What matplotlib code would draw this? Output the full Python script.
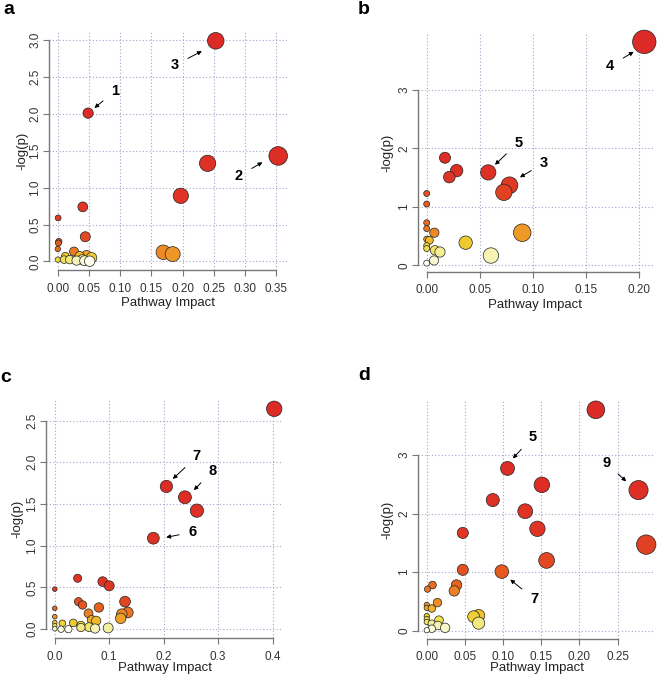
import numpy as np
import matplotlib.pyplot as plt
from matplotlib.colors import LinearSegmentedColormap

plt.rcParams['font.family'] = ['Liberation Sans', 'DejaVu Sans']

# panel a: pathway impact vs -log(p)
a_impact = [0.253, 0.0485, 0.353, 0.240, 0.197, 0.040, 0.0005, 0.044, 0.0016, 0.001,
            0.0, 0.169, 0.184, 0.026, 0.046, 0.035, 0.012, 0.054, 0.0, 0.010,
            0.019, 0.039, 0.043, 0.030, 0.051]
a_logp = [2.99, 2.01, 1.43, 1.33, 0.89, 0.74, 0.59, 0.335, 0.27, 0.25,
          0.17, 0.125, 0.10, 0.135, 0.08, 0.07, 0.07, 0.05, 0.025, 0.025,
          0.025, 0.025, 0.01, 0.012, 0.004]

# panel b
b_impact = [0.205, 0.0172, 0.0282, 0.058, 0.0213, 0.078, 0.0727, 0.0, 0.0, 0.0,
            0.0, 0.0072, 0.090, 0.0, 0.0025, 0.0367, 0.0, 0.0, 0.0078, 0.0125,
            0.0605, 0.0069, 0.0]
b_logp = [3.82, 1.84, 1.62, 1.59, 1.51, 1.37, 1.25, 1.23, 1.05, 0.73,
          0.63, 0.56, 0.56, 0.45, 0.43, 0.39, 0.34, 0.29, 0.26, 0.23,
          0.17, 0.086, 0.04]

# panel c
c_impact = [0.403, 0.205, 0.239, 0.261, 0.181, 0.042, 0.088, 0.100, 0.0, 0.129,
            0.0435, 0.051, 0.081, 0.0, 0.062, 0.134, 0.123, 0.0, 0.121, 0.068,
            0.076, 0.0, 0.014, 0.034, 0.048, 0.048, 0.063, 0.074, 0.098, 0.0,
            0.0, 0.0116, 0.025]
c_logp = [2.64, 1.71, 1.58, 1.42, 1.09, 0.61, 0.57, 0.52, 0.48, 0.33,
          0.33, 0.29, 0.26, 0.25, 0.19, 0.20, 0.18, 0.15, 0.13, 0.11,
          0.10, 0.08, 0.07, 0.075, 0.045, 0.02, 0.025, 0.008, 0.015, 0.04,
          0.005, 0.0, 0.0]

# panel d
d_impact = [0.2216, 0.1058, 0.1508, 0.2775, 0.0865, 0.129, 0.145, 0.0472, 0.2876, 0.157,
            0.0472, 0.0983, 0.039, 0.0075, 0.001, 0.036, 0.014, 0.0, 0.0, 0.0066,
            0.068, 0.0614, 0.0, 0.0, 0.016, 0.068, 0.0, 0.0066, 0.0145, 0.024,
            0.0066, 0.0]
d_logp = [3.77, 2.77, 2.49, 2.40, 2.23, 2.04, 1.74, 1.67, 1.47, 1.20,
          1.04, 1.01, 0.78, 0.78, 0.71, 0.68, 0.48, 0.44, 0.39, 0.38,
          0.26, 0.24, 0.25, 0.20, 0.18, 0.13, 0.15, 0.12, 0.09, 0.05,
          0.035, 0.01]

# labelled pathways: (label, text x, text y, arrow tip x, arrow tip y)
a_notes = [("1", 0.092, 2.31, 0.0586, 2.08), ("3", 0.1875, 2.66, 0.2307, 2.85),
           ("2", 0.290, 1.16, 0.3277, 1.344)]
b_notes = [("4", 0.173, 3.41, 0.195, 3.65), ("5", 0.0862, 2.10, 0.0643, 1.72),
           ("3", 0.1107, 1.75, 0.0878, 1.506)]
c_notes = [("7", 0.261, 2.07, 0.2168, 1.80), ("8", 0.290, 1.90, 0.2553, 1.665),
           ("6", 0.2534, 1.164, 0.2046, 1.10)]
d_notes = [("5", 0.139, 3.31, 0.1128, 2.94), ("9", 0.235, 2.86, 0.2614, 2.55),
           ("7", 0.1407, 0.543, 0.1093, 0.874)]

heat = LinearSegmentedColormap.from_list("heat", [
    (0.0, "#DC2A26"), (0.22, "#DF3624"), (0.38, "#E5601F"), (0.52, "#EE8F26"),
    (0.64, "#F0BE2A"), (0.76, "#EEDC3C"), (0.88, "#F4EFA0"), (1.0, "#FFFFF2")])

fig = plt.figure(figsize=(6.6, 6.76), dpi=100)
W, H = 660, 676


def panel(letter, letter_xy, box, impact, logp, xticks, yticks, xfmt, yfmt,
          rmin, rmax, notes, ylab_x, xlab_y):
    l, r, t, b = box
    ax = fig.add_axes([l / W, (H - b) / H, (r - l) / W, (b - t) / H])
    x = np.array(impact)
    y = np.array(logp)
    order = np.argsort(-y, kind="stable")
    x, y = x[order], y[order]
    cols = heat(np.linspace(0, 1, len(y)))
    rad = rmin + (rmax - rmin) * np.sqrt(x / x.max())
    ax.scatter(x, y, s=(2 * rad * 0.72) ** 2, c=cols, edgecolors="#222222",
               linewidths=0.5, zorder=3, clip_on=False)
    xr = x.max() - x.min()
    yr = y.max() - y.min()
    ax.set_xlim(x.min() - 0.04 * xr, x.max() + 0.04 * xr)
    ax.set_ylim(y.min() - 0.04 * yr, y.max() + 0.04 * yr)
    ax.set_xticks(xticks)
    ax.set_yticks(yticks)
    ax.set_xticklabels([xfmt % v for v in xticks])
    ax.set_yticklabels([yfmt % v for v in yticks], rotation=90, va="center")
    ax.grid(True, color="#A4A4CC", linestyle=(0, (1, 2)), linewidth=0.8, zorder=0)
    for s in ["top", "right"]:
        ax.spines[s].set_visible(False)
    ax.spines["left"].set_bounds(yticks[0], yticks[-1])
    ax.spines["bottom"].set_bounds(xticks[0], xticks[-1])
    for s in ["left", "bottom"]:
        ax.spines[s].set_color("#777777")
        ax.spines[s].set_linewidth(1.0)
    ax.tick_params(length=4, width=0.8, color="#777777", labelsize=8.5,
                   labelcolor="#333333")
    ax.tick_params(axis="x", pad=5)
    ax.tick_params(axis="y", pad=1.5)
    ax.set_xlabel("Pathway Impact", fontsize=9.5, color="#222222", va="center")
    ax.xaxis.set_label_coords(0.5, xlab_y)
    ax.set_ylabel("-log(p)", fontsize=9.5, color="#222222", va="center")
    ax.yaxis.set_label_coords(ylab_x, 0.5)
    for lab, tx, ty, px, py in notes:
        ax.annotate(lab, xy=(px, py), xytext=(tx, ty), fontsize=10.5, fontweight="bold",
                    ha="center", va="center", zorder=4,
                    arrowprops=dict(arrowstyle="-|>", color="black", lw=0.7,
                                    mutation_scale=6, shrinkA=5, shrinkB=0))
    fig.text(letter_xy[0] / W, 1 - letter_xy[1] / H, letter, fontsize=14,
             fontweight="bold", ha="center", va="center")
    return ax


panel("a", (9, 10), (49, 287, 32, 270), a_impact, a_logp,
      [0, 0.05, 0.10, 0.15, 0.20, 0.25, 0.30, 0.35], [0, 0.5, 1.0, 1.5, 2.0, 2.5, 3.0],
      "%.2f", "%.1f", 2.7, 9.3, a_notes, -0.11, -0.137)
panel("b", (364, 9), (418, 653, 33, 272), b_impact, b_logp,
      [0, 0.05, 0.10, 0.15, 0.20], [0, 1, 2, 3],
      "%.2f", "%d", 3.0, 11.7, b_notes, -0.13, -0.137)
panel("c", (6, 378), (46, 283, 400, 638), c_impact, c_logp,
      [0, 0.1, 0.2, 0.3, 0.4], [0, 0.5, 1.0, 1.5, 2.0, 2.5],
      "%.1f", "%.1f", 2.3, 7.7, c_notes, -0.12, -0.125)
panel("d", (364, 376), (418, 655, 401, 639), d_impact, d_logp,
      [0, 0.05, 0.10, 0.15, 0.20, 0.25], [0, 1, 2, 3],
      "%.2f", "%d", 2.7, 9.7, d_notes, -0.13, -0.122)

fig.savefig("out.png", dpi=100)
